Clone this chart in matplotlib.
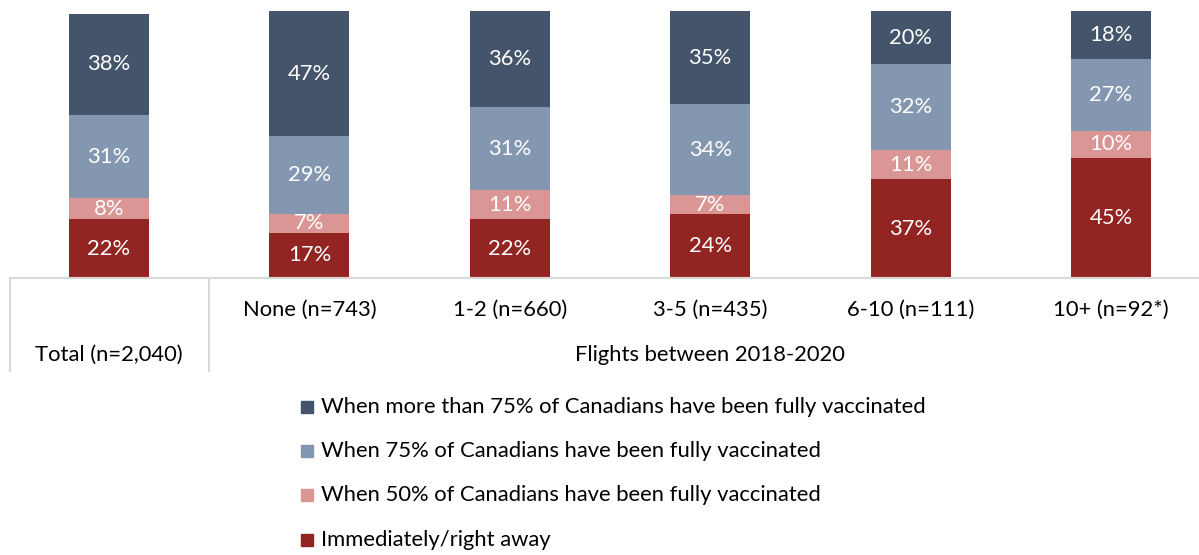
import matplotlib
matplotlib.use("Agg")
import matplotlib.pyplot as plt
from matplotlib.lines import Line2D
from matplotlib.patches import Rectangle

plt.rcParams['font.family'] = ['Lato', 'DejaVu Sans']

categories = ["Total (n=2,040)", "None (n=743)", "1-2 (n=660)", "3-5 (n=435)", "6-10 (n=111)", "10+ (n=92*)"]
series_names = [
    "Immediately/right away",
    "When 50% of Canadians have been fully vaccinated",
    "When 75% of Canadians have been fully vaccinated",
    "When more than 75% of Canadians have been fully vaccinated",
]
immediately = [22, 17, 22, 24, 37, 45]
at_50 = [8, 7, 11, 7, 11, 10]
at_75 = [31, 29, 31, 34, 32, 27]
more_75 = [38, 47, 36, 35, 20, 18]
group_label = "Flights between 2018-2020"

colors = ["#922421", "#DA9694", "#8497B0", "#44546A"]

W, H = 1199, 555
fig = plt.figure(figsize=(W / 100, H / 100), dpi=100)

# axes mapping
base_px, top_px = 278, 11
spacing = 200.4
first_c = 109
ax = fig.add_axes([0, (H - base_px) / H, 1, (base_px - top_px) / H])
ax.set_xlim(-first_c / spacing, (W - first_c) / spacing)
ax.set_ylim(0, 100)
ax.axis('off')

x = list(range(len(categories)))
bottom = [0] * len(categories)
fs = 15.8
for vals, col in zip([immediately, at_50, at_75, more_75], colors):
    ax.bar(x, vals, bottom=bottom, width=80 / spacing, color=col, linewidth=0)
    for xi, v, b in zip(x, vals, bottom):
        ax.text(xi, b + v / 2, f"{v}%", ha='center', va='center', color='white', fontsize=fs)
    bottom = [b + v for b, v in zip(bottom, vals)]

def fx(px):
    return px / W

def fy(py):
    return 1 - py / H

line_col = "#D9D9D9"
fig.add_artist(Line2D([fx(10), fx(W)], [fy(278), fy(278)], color=line_col, lw=1.5))
for xv in (10, 209):
    fig.add_artist(Line2D([fx(xv), fx(xv)], [fy(278), fy(371)], color=line_col, lw=1.5))

# category labels
fig.text(fx(first_c), fy(355), categories[0], ha='center', va='center', fontsize=fs, color='#000000')
for i in range(1, len(categories)):
    fig.text(fx(first_c + spacing * i), fy(310), categories[i], ha='center', va='center', fontsize=fs, color='#000000')
fig.text(fx(710), fy(355), group_label, ha='center', va='center', fontsize=fs, color='#000000')

# legend
rows_y = [540, 495, 451, 407]
for name, col, yy in zip(series_names, colors, rows_y):
    fig.add_artist(Rectangle((fx(301), fy(yy + 6)), 12 / W, 12 / H, color=col, transform=fig.transFigure))
    fig.text(fx(321), fy(yy), name, ha='left', va='center', fontsize=fs, color='#000000')

fig.savefig("out.png", dpi=100)
